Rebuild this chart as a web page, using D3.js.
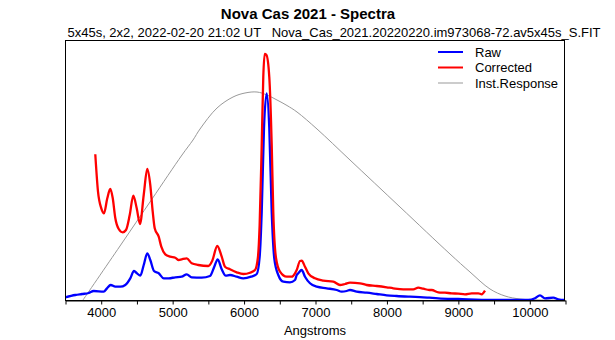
<!DOCTYPE html>
<html>
<head>
<meta charset="utf-8">
<script src="https://cdn.jsdelivr.net/npm/d3@7"></script>
<style>
  html, body { margin: 0; padding: 0; background: #fff; }
  svg { display: block; font-family: "Liberation Sans", Arial, sans-serif; }
</style>
</head>
<body>
<svg id="chart" width="615" height="340"></svg>
<script>
// ---- Data (wavelength in Angstroms, relative flux in arbitrary units) ----
const title = "Nova Cas 2021 - Spectra";
const subtitle = "5x45s, 2x2, 2022-02-20 21:02 UT   Nova_Cas_2021.20220220.im973068-72.av5x45s_S.FIT";
const xTicks = [3500, 4000, 4500, 5000, 5500, 6000, 6500, 7000, 7500, 8000, 8500, 9000, 9500, 10000, 10500];
const xTickLabels = [4000, 5000, 6000, 7000, 8000, 9000, 10000];
const seriesNames = ["Raw", "Corrected", "Inst.Response"];

const rawWave = [3504, 3644, 3738, 3832, 3902, 4042, 4088, 4140, 4204, 4274, 4344, 4414, 4466, 4508, 4554, 4602, 4652, 4694, 4746, 4812, 4882, 4952, 5044, 5134, 5204, 5274, 5414, 5530, 5590, 5638, 5694, 5750, 5810, 5904, 5996, 6104, 6184, 6225, 6254, 6286, 6324, 6360, 6394, 6430, 6486, 6556, 6650, 6720, 6744, 6766, 6814, 6860, 6930, 7024, 7164, 7304, 7374, 7444, 7490, 7584, 7724, 7864, 8004, 8144, 8330, 8516, 8600, 8726, 9006, 9474, 9986, 10080, 10150, 10220, 10336, 10406, 10500];
const rawFlux = [2.7, 5, 6, 7, 9, 8.3, 11.7, 15, 13.3, 13.3, 15, 21.7, 29, 26.7, 24.3, 35, 46.7, 40, 29, 26.7, 21.7, 21.7, 22.7, 23.3, 25.7, 22.7, 22.3, 24, 33.3, 40.7, 30.7, 24.3, 25, 23.3, 21.7, 23.3, 26, 43, 88, 172, 206.7, 172, 88, 41.7, 25, 18.3, 17.7, 20, 25, 26.7, 30, 23.3, 16.7, 13.3, 11.7, 10, 8.3, 9, 10, 8.3, 7.3, 6, 4.7, 4, 3.3, 2.7, 2.3, 1.7, 1, 0, 0, 1.7, 4.7, 1.7, 2.3, 0.7, 0];

const corrWave = [3924, 3962, 4008, 4046, 4092, 4134, 4168, 4204, 4252, 4308, 4354, 4406, 4456, 4504, 4550, 4602, 4652, 4694, 4728, 4756, 4812, 4848, 4904, 4974, 5044, 5092, 5134, 5204, 5274, 5366, 5506, 5562, 5632, 5694, 5740, 5810, 5904, 5996, 6090, 6160, 6200, 6225, 6254, 6276, 6295, 6320, 6360, 6394, 6416, 6454, 6510, 6604, 6674, 6720, 6744, 6790, 6814, 6860, 6906, 7000, 7116, 7256, 7350, 7420, 7490, 7630, 7724, 7864, 8004, 8096, 8236, 8376, 8446, 8516, 8600, 8634, 8726, 8820, 8914, 9006, 9100, 9194, 9286, 9334, 9380];
const corrFlux = [145.7, 108.3, 91.7, 86.7, 101.7, 111, 102, 82, 71, 67.7, 70, 85, 104.3, 91.7, 76, 105, 131, 115, 88.3, 71.7, 63.3, 53.3, 45.7, 43.3, 42.3, 40, 40.7, 41.7, 36.7, 35, 34, 39.3, 54, 43.3, 33.3, 30.7, 27.7, 26, 27.3, 30, 42, 75, 155, 223, 246, 245, 223, 155, 88, 42, 28.3, 23.3, 23.3, 26.7, 30, 39, 39.3, 33.3, 26.7, 21.7, 19.3, 18.3, 15, 16, 17.3, 16.7, 15, 14, 12.7, 11.7, 10.7, 10.7, 12.3, 11.3, 10, 10, 7.7, 7.3, 6.7, 6.3, 5.7, 6.7, 6.7, 5.7, 9.3];

const respWave = [3752, 4270, 4718, 5138, 5292, 5390, 5628, 5852, 6020, 6188, 6328, 6468, 6608, 6748, 7028, 7490, 8190, 8890, 9170, 9450, 9660, 9870, 10150, 10500];
const respFlux = [0, 54, 101, 145, 160, 171, 192, 203, 207, 208, 205, 200, 194.5, 188, 171, 140, 93, 46, 28, 11, 4, 1, 0, 0];

const colors = ["#0000ff", "#ff0000", "#999999"];
const widths = [2.3, 2.3, 1];

// ---- Layout ----
const svg = d3.select("#chart");
const m = { left: 65, right: 565, top: 40, bottom: 300 };

const x = d3.scaleLinear().domain([3500, 10500]).range([m.left, m.right]);
const y = d3.scaleLinear().domain([0, 260]).range([m.bottom, m.top]);

svg.append("defs").append("clipPath").attr("id", "clip")
  .append("rect").attr("x", m.left).attr("y", m.top)
  .attr("width", m.right - m.left).attr("height", m.bottom - m.top);

const zip = (w, f) => w.map((d, i) => [d, f[i]]);
const seriesData = [zip(rawWave, rawFlux), zip(corrWave, corrFlux), zip(respWave, respFlux)];

const line = d3.line().x(d => x(d[0])).y(d => y(d[1])).curve(d3.curveMonotoneX);
const smoothLine = d3.line().x(d => x(d[0])).y(d => y(d[1])).curve(d3.curveCatmullRom.alpha(0.5));

const g = svg.append("g").attr("clip-path", "url(#clip)");
[2, 0, 1].forEach(i => {
  g.append("path").datum(seriesData[i])
    .attr("fill", "none")
    .attr("stroke", colors[i])
    .attr("stroke-width", widths[i])
    .attr("stroke-linejoin", "round")
    .attr("d", i === 2 ? smoothLine : line);
});

// frame
svg.append("rect").attr("x", m.left + 0.5).attr("y", m.top + 0.5)
  .attr("width", m.right - m.left - 1).attr("height", m.bottom - m.top)
  .attr("fill", "none").attr("stroke", "#000").attr("stroke-width", 1);

// x axis
const xAxis = d3.axisBottom(x).tickValues(xTicks).tickSize(4).tickSizeOuter(0)
  .tickFormat(d => xTickLabels.includes(d) ? String(d) : "");
const ax = svg.append("g").attr("transform", `translate(0.5,${m.bottom + 0.5})`).call(xAxis);
ax.select(".domain").attr("stroke", "#000");
ax.selectAll(".tick line").attr("stroke", "#000");
ax.selectAll(".tick text").attr("font-size", 13).attr("fill", "#000")
  .attr("font-family", "Liberation Sans, Arial, sans-serif").attr("dy", "0.9em").attr("y", 5);

svg.append("text").attr("x", (m.left + m.right) / 2).attr("y", 335)
  .attr("text-anchor", "middle").attr("font-size", 13).text("Angstroms");

// titles
svg.append("text").attr("x", 308).attr("y", 19)
  .attr("text-anchor", "middle").attr("font-size", 15).attr("font-weight", "bold").text(title);
svg.append("text").attr("x", 334).attr("y", 37)
  .attr("text-anchor", "middle").attr("font-size", 13).style("white-space", "pre").text(subtitle);

// legend
const leg = svg.append("g");
seriesNames.forEach((name, i) => {
  const yy = 52 + i * 15.5;
  leg.append("line").attr("x1", 438).attr("x2", 463).attr("y1", yy).attr("y2", yy)
    .attr("stroke", colors[i]).attr("stroke-width", i < 2 ? 2 : 1);
  leg.append("text").attr("x", 475).attr("y", yy + 4.5).attr("font-size", 13).text(name);
});
</script>
</body>
</html>
